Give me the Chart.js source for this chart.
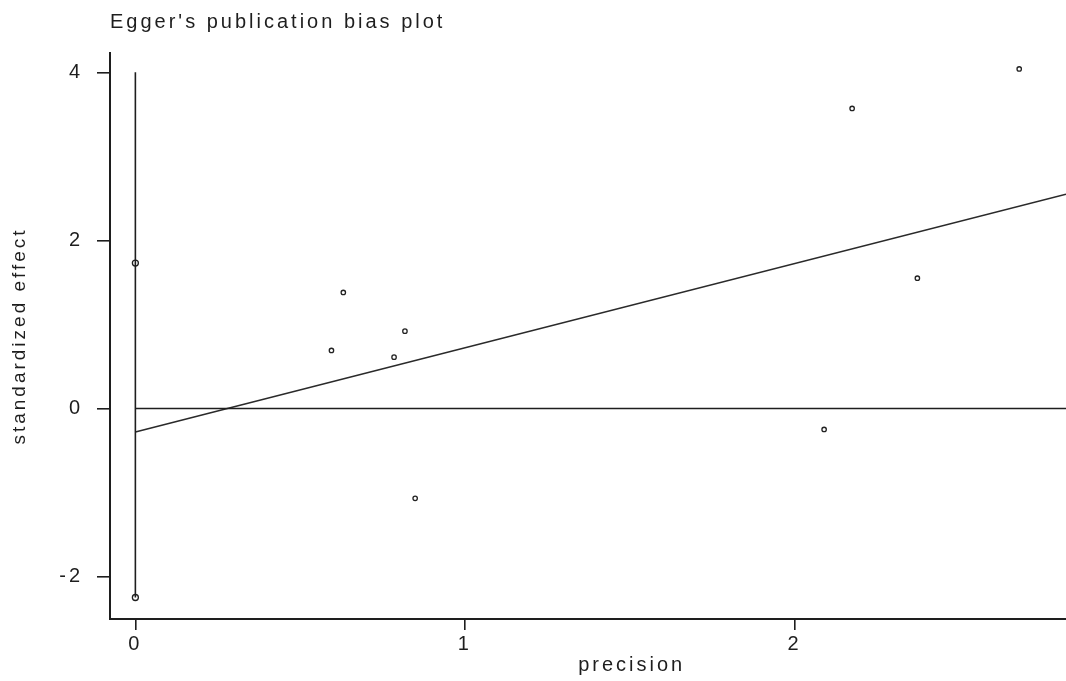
<!DOCTYPE html>
<html>
<head>
<meta charset="utf-8">
<script src="https://cdn.jsdelivr.net/npm/chart.js@4.4.1/dist/chart.umd.min.js"></script>
<style>
  html, body { margin: 0; padding: 0; background: #fff; }
  #chart { display: block; }
</style>
</head>
<body>
<canvas id="chart" width="1066" height="681"></canvas>
<script>
// studies: precision (1/se) vs standardized effect (effect/se)
const studyPrecision = [0.595, 0.631, 0.785, 0.818, 0.849, 2.090, 2.175, 2.373, 2.682];
const studyEffect    = [0.69, 1.38, 0.61, 0.92, -1.07, -0.25, 3.57, 1.55, 4.04];

// intercept confidence interval drawn at precision = 0
const ciEnds = [1.73, -2.25];
const ciBar  = [-2.25, 4.0];

// fitted Egger regression line (end points)
const regPrecision = [0, 2.824];
const regEffect    = [-0.28, 2.55];

// reference line at zero
const zeroPrecision = [0, 2.824];
const zeroEffect    = [0, 0];

const xTicks = [0, 1, 2];
const yTicks = [-2, 0, 2, 4];

const xRange = [-0.077, 2.824];
const yRange = [-2.506, 4.23];

const ink = '#1e1e1e';
const fontFamily = '"Liberation Sans", Arial, sans-serif';

function toPoints(xs, ys) {
    return xs.map((x, i) => ({ x: x, y: ys[i] }));
}

// Stata-style wide letter spacing + x axis title
const spacingPlugin = {
    id: 'spacing',
    beforeDraw: function (chart) {
        chart.ctx.letterSpacing = '3px';
    },
    afterDraw: function (chart) {
        const ctx = chart.ctx;
        const xScale = chart.scales.x;
        ctx.save();
        ctx.letterSpacing = '3px';
        ctx.font = '20px ' + fontFamily;
        ctx.fillStyle = ink;
        ctx.textAlign = 'center';
        ctx.textBaseline = 'middle';
        ctx.fillText('precision', xScale.getPixelForValue(1.5) + 2, 665);
        ctx.restore();
    }
};

const ctx = document.getElementById('chart');

new Chart(ctx.getContext('2d'), {
    type: 'scatter',
    data: {
        datasets: [
            {
                type: 'line',
                data: toPoints(zeroPrecision, zeroEffect),
                borderColor: ink,
                borderWidth: 1.6,
                pointRadius: 0,
                fill: false
            },
            {
                type: 'line',
                data: toPoints([0, 0], ciBar),
                borderColor: ink,
                borderWidth: 1.6,
                pointRadius: 0,
                fill: false
            },
            {
                type: 'line',
                data: toPoints(regPrecision, regEffect),
                borderColor: '#2a2a2a',
                borderWidth: 1.6,
                pointRadius: 0,
                fill: false
            },
            {
                data: toPoints([0, 0], ciEnds),
                pointStyle: 'circle',
                pointRadius: 3,
                pointBorderWidth: 1.3,
                pointBorderColor: ink,
                pointBackgroundColor: '#ffffff'
            },
            {
                data: toPoints(studyPrecision, studyEffect),
                pointStyle: 'circle',
                pointRadius: 2.2,
                pointBorderWidth: 1.3,
                pointBorderColor: '#222222',
                pointBackgroundColor: '#ffffff'
            }
        ]
    },
    options: {
        responsive: false,
        animation: { duration: 0 },
        // no automatic padding: the plot runs right up to the canvas edge
        layout: { padding: 0, autoPadding: false },
        plugins: {
            legend: { display: false },
            tooltip: { enabled: false },
            title: {
                display: true,
                text: "Egger's publication bias plot",
                align: 'start',
                fullSize: false,
                color: ink,
                font: { family: fontFamily, size: 20, weight: 'normal' },
                padding: { top: 10, bottom: 19 }
            }
        },
        scales: {
            x: {
                type: 'linear',
                min: xRange[0],
                max: xRange[1],
                afterBuildTicks: function (scale) {
                    scale.ticks = xTicks.map(v => ({ value: v }));
                },
                afterFit: function (scale) {
                    scale.height = 62;
                    scale.paddingLeft = 0;
                    scale.paddingRight = 0;
                },
                grid: {
                    drawOnChartArea: false,
                    drawTicks: true,
                    tickLength: 11,
                    color: ink,
                    lineWidth: 1.6
                },
                border: { display: true, color: ink, width: 2 },
                ticks: {
                    color: ink,
                    padding: 2,
                    maxRotation: 0,
                    font: { family: fontFamily, size: 20 }
                }
            },
            y: {
                type: 'linear',
                min: yRange[0],
                max: yRange[1],
                afterBuildTicks: function (scale) {
                    scale.ticks = yTicks.map(v => ({ value: v }));
                },
                afterFit: function (scale) {
                    scale.width = 110;
                },
                grid: {
                    drawOnChartArea: false,
                    drawTicks: true,
                    tickLength: 13,
                    color: ink,
                    lineWidth: 1.6
                },
                border: { display: true, color: ink, width: 2 },
                ticks: {
                    color: ink,
                    padding: 14,
                    font: { family: fontFamily, size: 20 }
                },
                title: {
                    display: true,
                    text: 'standardized effect',
                    color: ink,
                    font: { family: fontFamily, size: 19 },
                    padding: { top: 8, bottom: 0 }
                }
            }
        }
    },
    plugins: [spacingPlugin]
});
</script>
</body>
</html>
